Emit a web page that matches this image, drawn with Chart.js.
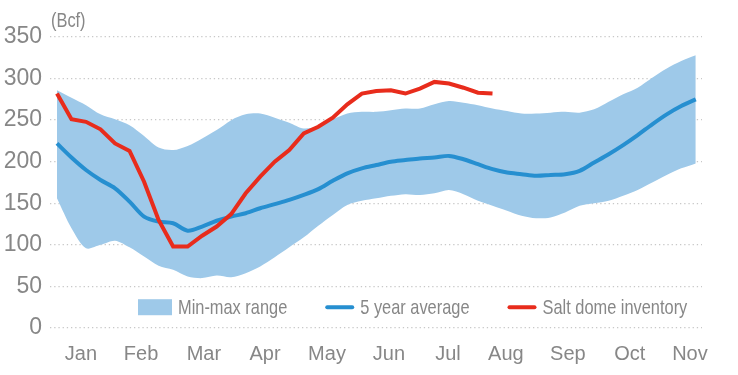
<!DOCTYPE html>
<html>
<head>
<meta charset="utf-8">
<script src="https://cdn.jsdelivr.net/npm/chart.js@4.4.1/dist/chart.umd.min.js"></script>
<style>
  body { margin: 0; background: #fff; }
  #wrap { width: 738px; height: 375px; }
</style>
</head>
<body>
<div id="wrap"><canvas id="storageChart" width="738" height="375"></canvas></div>
<script>
// Weekly observations (week index from early January)
const weeks = [0, 1, 2, 3, 4, 5, 6, 7, 8, 9, 10, 11, 12, 13, 14, 15, 16, 17, 18, 19, 20, 21,
  22, 23, 24, 25, 26, 27, 28, 29, 30, 31, 32, 33, 34, 35, 36, 37, 38, 39, 40, 41, 42, 43, 44];

const monthNames = ["Jan", "Feb", "Mar", "Apr", "May", "Jun", "Jul", "Aug", "Sep", "Oct", "Nov"];
// mid-month position of each label, in weeks
const monthTicks = [1.65, 5.79, 10.12, 14.33, 18.6, 22.87, 26.93, 30.92, 35.19, 39.46, 43.6];

// Min-max range (Bcf)
const rangeMax = [286, 277, 268, 257, 251, 244, 231, 217, 214, 219, 228, 238, 250, 257, 258, 253,
  247, 240, 243, 251, 258, 260, 260, 262, 264, 264, 269, 273, 271, 268, 264, 261, 258, 258, 259,
  260, 259, 263, 272, 281, 289, 301, 312, 321, 328];
const rangeMin = [156, 120, 96, 100, 105, 97, 86, 75, 70, 62, 60, 63, 61, 66, 74, 85, 97, 109,
  123, 136, 148, 153, 156, 159, 161, 160, 162, 166, 161, 153, 147, 141, 135, 132, 133, 139, 147,
  150, 153, 159, 166, 175, 184, 192, 198];

// 5 year average (Bcf)
const fiveYearAvg = [222, 205, 190, 178, 168, 152, 134, 128, 126, 117, 122, 129, 134, 138, 144,
  149, 154, 160, 167, 177, 186, 192, 196, 200, 202, 204, 205, 207, 203, 197, 191, 187, 185, 183,
  184, 185, 189, 199, 209, 220, 232, 245, 257, 267, 275];

// Salt dome inventory (Bcf), reported up to early August
const saltDome = [282, 251, 248, 239, 222, 213, 176, 130, 98, 98, 111, 122, 137, 162, 182, 200,
  214, 234, 242, 253, 269, 282, 285, 286, 282, 288, 296, 294, 289, 283, 282];

const bandColor = "rgb(158, 201, 233)";
const avgColor = "rgb(38, 143, 208)";
const saltColor = "rgb(232, 44, 28)";
const textColor = "#878787";
const fontFamily = "'Liberation Sans', Arial, sans-serif";

function toPoints(values) {
  return values.map((v, i) => ({ x: weeks[i], y: v }));
}

// narrow text: the original uses a condensed face
function narrowText(ctx, text, x, y, squeeze) {
  ctx.save();
  ctx.translate(x, y);
  ctx.scale(squeeze, 1);
  ctx.fillText(text, 0, 0);
  ctx.restore();
  return ctx.measureText(text).width * squeeze;
}

// Legend sitting inside the plot, plus the unit label
const innerLegend = {
  id: "innerLegend",
  afterDraw(chart) {
    const ctx = chart.ctx;
    const area = chart.chartArea;
    const y = chart.scales.y.getPixelForValue(25);

    ctx.save();
    ctx.font = "21px " + fontFamily;
    ctx.fillStyle = textColor;
    ctx.textBaseline = "middle";
    ctx.textAlign = "left";
    narrowText(ctx, "(Bcf)", area.left + 1, area.top - 16, 0.78);

    const items = [
      { label: "Min-max range", type: "box", color: bandColor },
      { label: "5 year average", type: "line", color: avgColor },
      { label: "Salt dome inventory", type: "line", color: saltColor },
    ];
    let x = area.left + 88;
    items.forEach((item) => {
      if (item.type === "box") {
        ctx.fillStyle = item.color;
        ctx.fillRect(x, y - 8, 34, 16);
        x += 40;
      } else {
        ctx.strokeStyle = item.color;
        ctx.lineWidth = 4;
        ctx.lineCap = "round";
        ctx.beginPath();
        ctx.moveTo(x + 2, y);
        ctx.lineTo(x + 27, y);
        ctx.stroke();
        x += 35;
      }
      ctx.fillStyle = textColor;
      x += narrowText(ctx, item.label, x, y + 1, 0.78) + 38;
    });
    ctx.restore();
  },
};

const canvas = document.getElementById("storageChart");
new Chart(canvas, {
  type: "line",
  data: {
    datasets: [
      {
        label: "Salt dome inventory",
        data: toPoints(saltDome),
        borderColor: saltColor,
        borderWidth: 4,
        pointRadius: 0,
        fill: false,
        tension: 0,
        order: 0,
      },
      {
        label: "5 year average",
        data: toPoints(fiveYearAvg),
        borderColor: avgColor,
        borderWidth: 4,
        pointRadius: 0,
        fill: false,
        tension: 0.3,
        order: 1,
      },
      {
        label: "Max",
        data: toPoints(rangeMax),
        borderWidth: 0,
        borderColor: bandColor,
        backgroundColor: bandColor,
        pointRadius: 0,
        fill: "+1",
        tension: 0.3,
        order: 2,
      },
      {
        label: "Min",
        data: toPoints(rangeMin),
        borderWidth: 0,
        borderColor: bandColor,
        backgroundColor: bandColor,
        pointRadius: 0,
        fill: false,
        tension: 0.3,
        order: 3,
      },
    ],
  },
  options: {
    responsive: false,
    animation: false,
    devicePixelRatio: 1,
    layout: { padding: { top: 37, right: 36, left: 0, bottom: 0 } },
    plugins: {
      legend: { display: false },
      tooltip: { enabled: false },
    },
    scales: {
      x: {
        type: "linear",
        min: -0.48,
        max: 44.43,
        grid: { display: false, drawTicks: false },
        border: { display: false },
        afterBuildTicks: (scale) => {
          scale.ticks = monthTicks.map((v) => ({ value: v }));
        },
        afterFit: (scale) => {
          scale.height = 47;
        },
        ticks: {
          autoSkip: false,
          maxRotation: 0,
          padding: 14,
          color: textColor,
          font: { family: fontFamily, size: 20 },
          callback: (value, index) => monthNames[index],
        },
      },
      y: {
        min: 0,
        max: 350,
        grid: {
          color: "#c8c8c8",
          lineWidth: 1.3,
          drawTicks: false,
        },
        border: { display: false, dash: [1.3, 2.9] },
        afterFit: (scale) => {
          scale.width = 50;
        },
        ticks: {
          stepSize: 50,
          padding: 8,
          color: textColor,
          font: { family: fontFamily, size: 23 },
        },
      },
    },
  },
  plugins: [innerLegend],
});
</script>
</body>
</html>
